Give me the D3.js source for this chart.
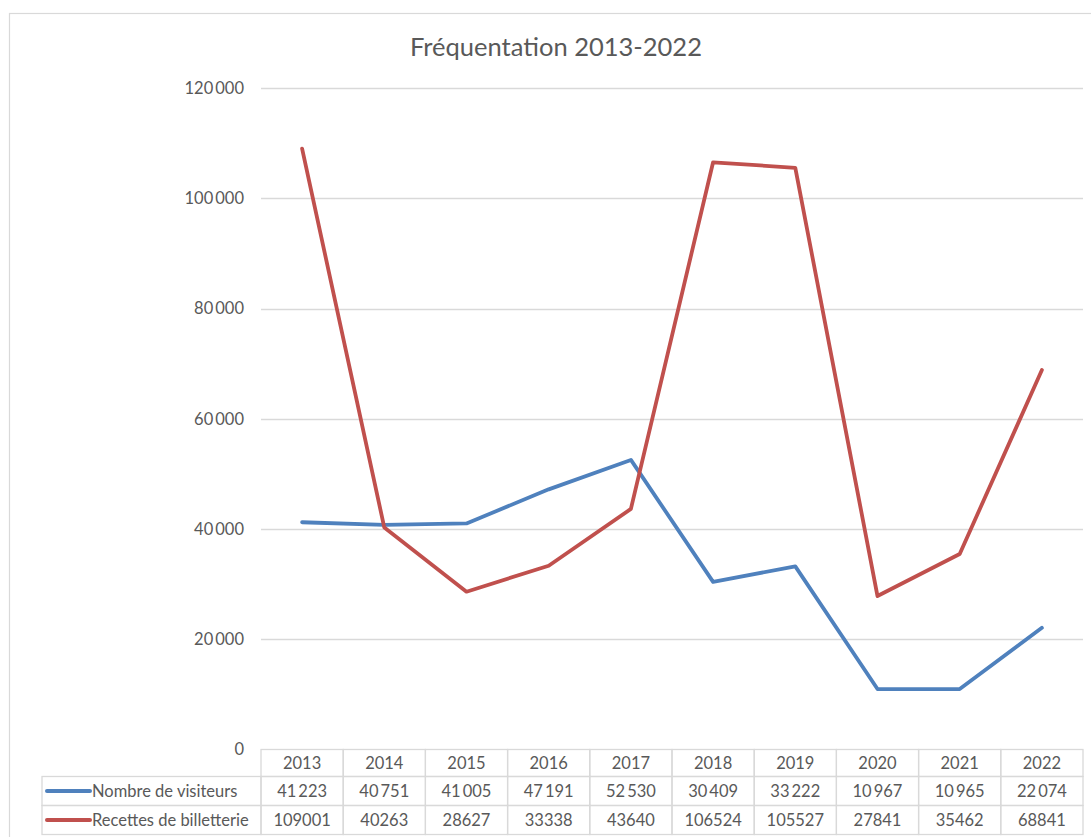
<!DOCTYPE html>
<html>
<head>
<meta charset="utf-8">
<script src="https://cdn.jsdelivr.net/npm/d3@7"></script>
<style>
  body { margin: 0; background: #fff; }
  svg { display: block; font-family: Lato, "Open Sans", sans-serif; }
</style>
</head>
<body>
<div id="chart"></div>
<script>
// data
var years = ['2013', '2014', '2015', '2016', '2017', '2018', '2019', '2020', '2021', '2022']
var visiteurs = [41223, 40751, 41005, 47191, 52530, 30409, 33222, 10967, 10965, 22074]
var recettes = [109001, 40263, 28627, 33338, 43640, 106524, 105527, 27841, 35462, 68841]
var yTicks = [0, 20000, 40000, 60000, 80000, 100000, 120000]

var series = [
    { name: 'Nombre de visiteurs', values: visiteurs, color: '#4f81bd', fmt: 'space' },
    { name: 'Recettes de billetterie', values: recettes, color: '#c0504d', fmt: 'plain' }
]

var width = 1091,
    height = 837

var plot = { left: 261, right: 1083, top: 88, bottom: 749.5 }
var labelLeft = 42
var rowH = 29
var txt = '#595959'
var fs = 16.5

function spaced(n) {
    return d3.format(',')(n).replace(/,/g, '\u2009')
}

var svg = d3.select('#chart')
    .append('svg')
    .attr('width', width)
    .attr('height', height)

// chart frame (cut off on the right and bottom like the screenshot)
svg.append('rect')
    .attr('x', 9.5)
    .attr('y', 13.5)
    .attr('width', width + 20)
    .attr('height', height + 20)
    .attr('fill', 'none')
    .attr('stroke', '#d9d9d9')
    .attr('stroke-width', 1.2)

svg.append('text')
    .attr('x', 556)
    .attr('y', 56)
    .attr('text-anchor', 'middle')
    .attr('font-size', 25.5)
    .attr('fill', txt)
    .text('Fréquentation 2013-2022')

var x = d3.scaleBand()
    .domain(years)
    .range([plot.left, plot.right])

var y = d3.scaleLinear()
    .domain([0, 120000])
    .range([plot.bottom, plot.top])

// gridlines
svg.append('g')
    .selectAll('line')
    .data(yTicks.filter(function(d) { return d > 0 }))
    .enter()
    .append('line')
    .attr('x1', plot.left)
    .attr('x2', plot.right)
    .attr('y1', function(d) { return Math.round(y(d)) + 0.5 })
    .attr('y2', function(d) { return Math.round(y(d)) + 0.5 })
    .attr('stroke', '#d9d9d9')
    .attr('stroke-width', 1.3)

var yAxis = d3.axisLeft(y)
    .tickValues(yTicks)
    .tickSize(0)
    .tickPadding(0)
    .tickFormat(function(d) { return spaced(d) })

var yg = svg.append('g')
    .attr('transform', 'translate(244,0)')
    .call(yAxis)
yg.select('.domain').remove()
yg.selectAll('text')
    .attr('font-family', 'Lato, "Open Sans", sans-serif')
    .attr('font-size', fs)
    .attr('fill', txt)

// lines
var line = d3.line()
    .x(function(d, i) { return x(years[i]) + x.bandwidth() / 2 })
    .y(function(d) { return y(d) })

svg.append('g')
    .selectAll('path')
    .data(series)
    .enter()
    .append('path')
    .attr('d', function(d) { return line(d.values) })
    .attr('fill', 'none')
    .attr('stroke', function(d) { return d.color })
    .attr('stroke-width', 3.8)
    .attr('stroke-linejoin', 'round')
    .attr('stroke-linecap', 'round')

// data table
var tbl = svg.append('g').attr('class', 'table')
var tTop = plot.bottom
var tColor = '#d9d9d9'

// header cells
tbl.selectAll('.hcell')
    .data(years)
    .enter()
    .append('rect')
    .attr('class', 'hcell')
    .attr('x', function(d) { return x(d) })
    .attr('y', tTop)
    .attr('width', x.bandwidth())
    .attr('height', rowH - 2)
    .attr('fill', 'none')
    .attr('stroke', tColor)
    .attr('stroke-width', 1.3)

tbl.selectAll('.htext')
    .data(years)
    .enter()
    .append('text')
    .attr('x', function(d) { return x(d) + x.bandwidth() / 2 })
    .attr('y', tTop + 19)
    .attr('text-anchor', 'middle')
    .attr('font-size', fs)
    .attr('fill', txt)
    .text(function(d) { return d })

series.forEach(function(s, r) {
    var top = tTop + rowH - 2 + r * rowH
    var row = tbl.append('g')

    row.append('rect')
        .attr('x', labelLeft)
        .attr('y', top)
        .attr('width', plot.left - labelLeft)
        .attr('height', rowH)
        .attr('fill', 'none')
        .attr('stroke', tColor)
        .attr('stroke-width', 1.3)

    row.selectAll('.cell')
        .data(years)
        .enter()
        .append('rect')
        .attr('x', function(d) { return x(d) })
        .attr('y', top)
        .attr('width', x.bandwidth())
        .attr('height', rowH)
        .attr('fill', 'none')
        .attr('stroke', tColor)
        .attr('stroke-width', 1.3)

    // legend key
    row.append('line')
        .attr('x1', labelLeft + 5)
        .attr('x2', labelLeft + 48)
        .attr('y1', top + rowH / 2)
        .attr('y2', top + rowH / 2)
        .attr('stroke', s.color)
        .attr('stroke-width', 4)
        .attr('stroke-linecap', 'round')

    row.append('text')
        .attr('x', labelLeft + 50)
        .attr('y', top + 20)
        .attr('font-size', fs)
        .attr('fill', txt)
        .text(s.name)

    row.selectAll('.val')
        .data(s.values)
        .enter()
        .append('text')
        .attr('x', function(d, i) { return x(years[i]) + x.bandwidth() / 2 })
        .attr('y', top + 20)
        .attr('text-anchor', 'middle')
        .attr('font-size', fs)
        .attr('fill', txt)
        .text(function(d) { return s.fmt == 'space' ? spaced(d) : d })
})
</script>
</body>
</html>
